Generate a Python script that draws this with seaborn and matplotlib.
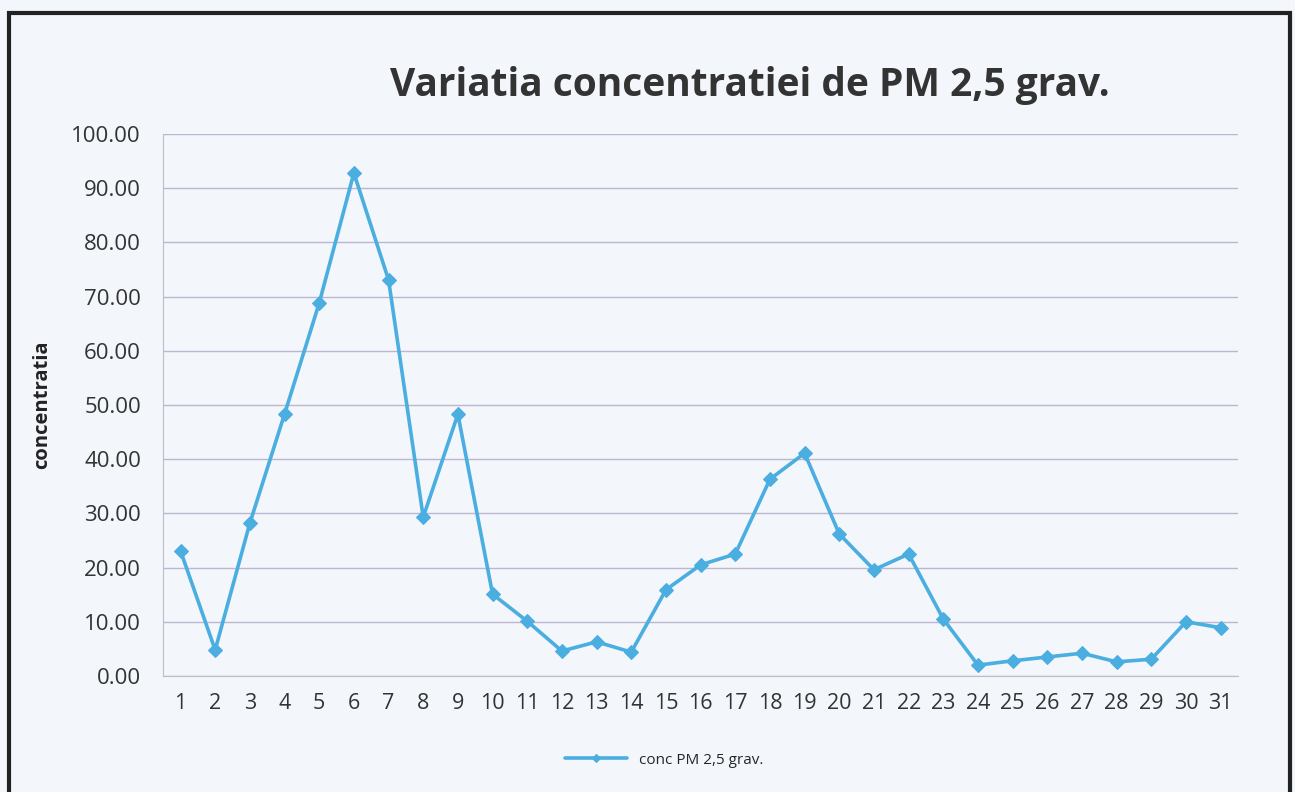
import pandas as pd
import matplotlib.pyplot as plt
import seaborn as sns
from matplotlib.patches import Rectangle

# valori
zile = list(range(1, 32))
concentratie = [23.1, 4.8, 28.2, 48.3, 68.8, 92.8, 73.1, 29.3, 48.3, 15.1,
                10.1, 4.6, 6.3, 4.4, 15.9, 20.5, 22.5, 36.3, 41.1, 26.2,
                19.6, 22.5, 10.5, 2.0, 2.8, 3.5, 4.2, 2.6, 3.1, 10.0, 8.9]
y_ticks = [0, 10, 20, 30, 40, 50, 60, 70, 80, 90, 100]

df = pd.DataFrame({"zi": zile, "conc": concentratie})

sns.set_style("white")
plt.rcParams['font.family'] = ['Open Sans', 'DejaVu Sans']

bg = "#f3f6fb"
fig = plt.figure(figsize=(12.95, 7.92), dpi=100, facecolor=bg)
ax = fig.add_axes([0.126, 0.1465, 0.830, 0.6843])
ax.set_facecolor(bg)

sns.lineplot(data=df, x="zi", y="conc", ax=ax, color="#4aaee0", linewidth=2.6,
             marker="D", markersize=7, markeredgecolor="#4aaee0",
             label="conc PM 2,5 grav.", legend=False)

ax.set_xlim(0.5, 31.5)
ax.set_ylim(0, 100)
ax.set_xticks(zile)
ax.set_yticks(y_ticks)
ax.set_yticklabels([f"{v:.2f}" for v in y_ticks])
ax.tick_params(axis="y", length=0, labelsize=16, colors="#333333", pad=16)
ax.tick_params(axis="x", length=0, labelsize=15.5, colors="#333333", pad=12)
ax.grid(axis="y", color="#bcb6cf", linewidth=1)
for s in ["top", "right"]:
    ax.spines[s].set_visible(False)
for s in ["left", "bottom"]:
    ax.spines[s].set_color("#bdbdc8")
ax.set_xlabel("")
ax.set_ylabel("concentratia", fontsize=14.5, fontweight="bold", color="#222222", labelpad=14)

fig.text(0.579, 0.892, "Variatia concentratiei de PM 2,5 grav.", ha="center", va="center",
         fontsize=28, fontweight="bold", color="#333333")

handles, labels = ax.get_legend_handles_labels()
fig.legend(handles, labels, loc="center", bbox_to_anchor=(0.513, 0.04), frameon=False,
           fontsize=11, handlelength=4, markerscale=0.6)

fig.patches.append(Rectangle((0.007, -0.01), 0.989, 0.994, transform=fig.transFigure,
                             fill=False, edgecolor="#222222", linewidth=3))

fig.savefig("out.png", dpi=100, facecolor=bg)
